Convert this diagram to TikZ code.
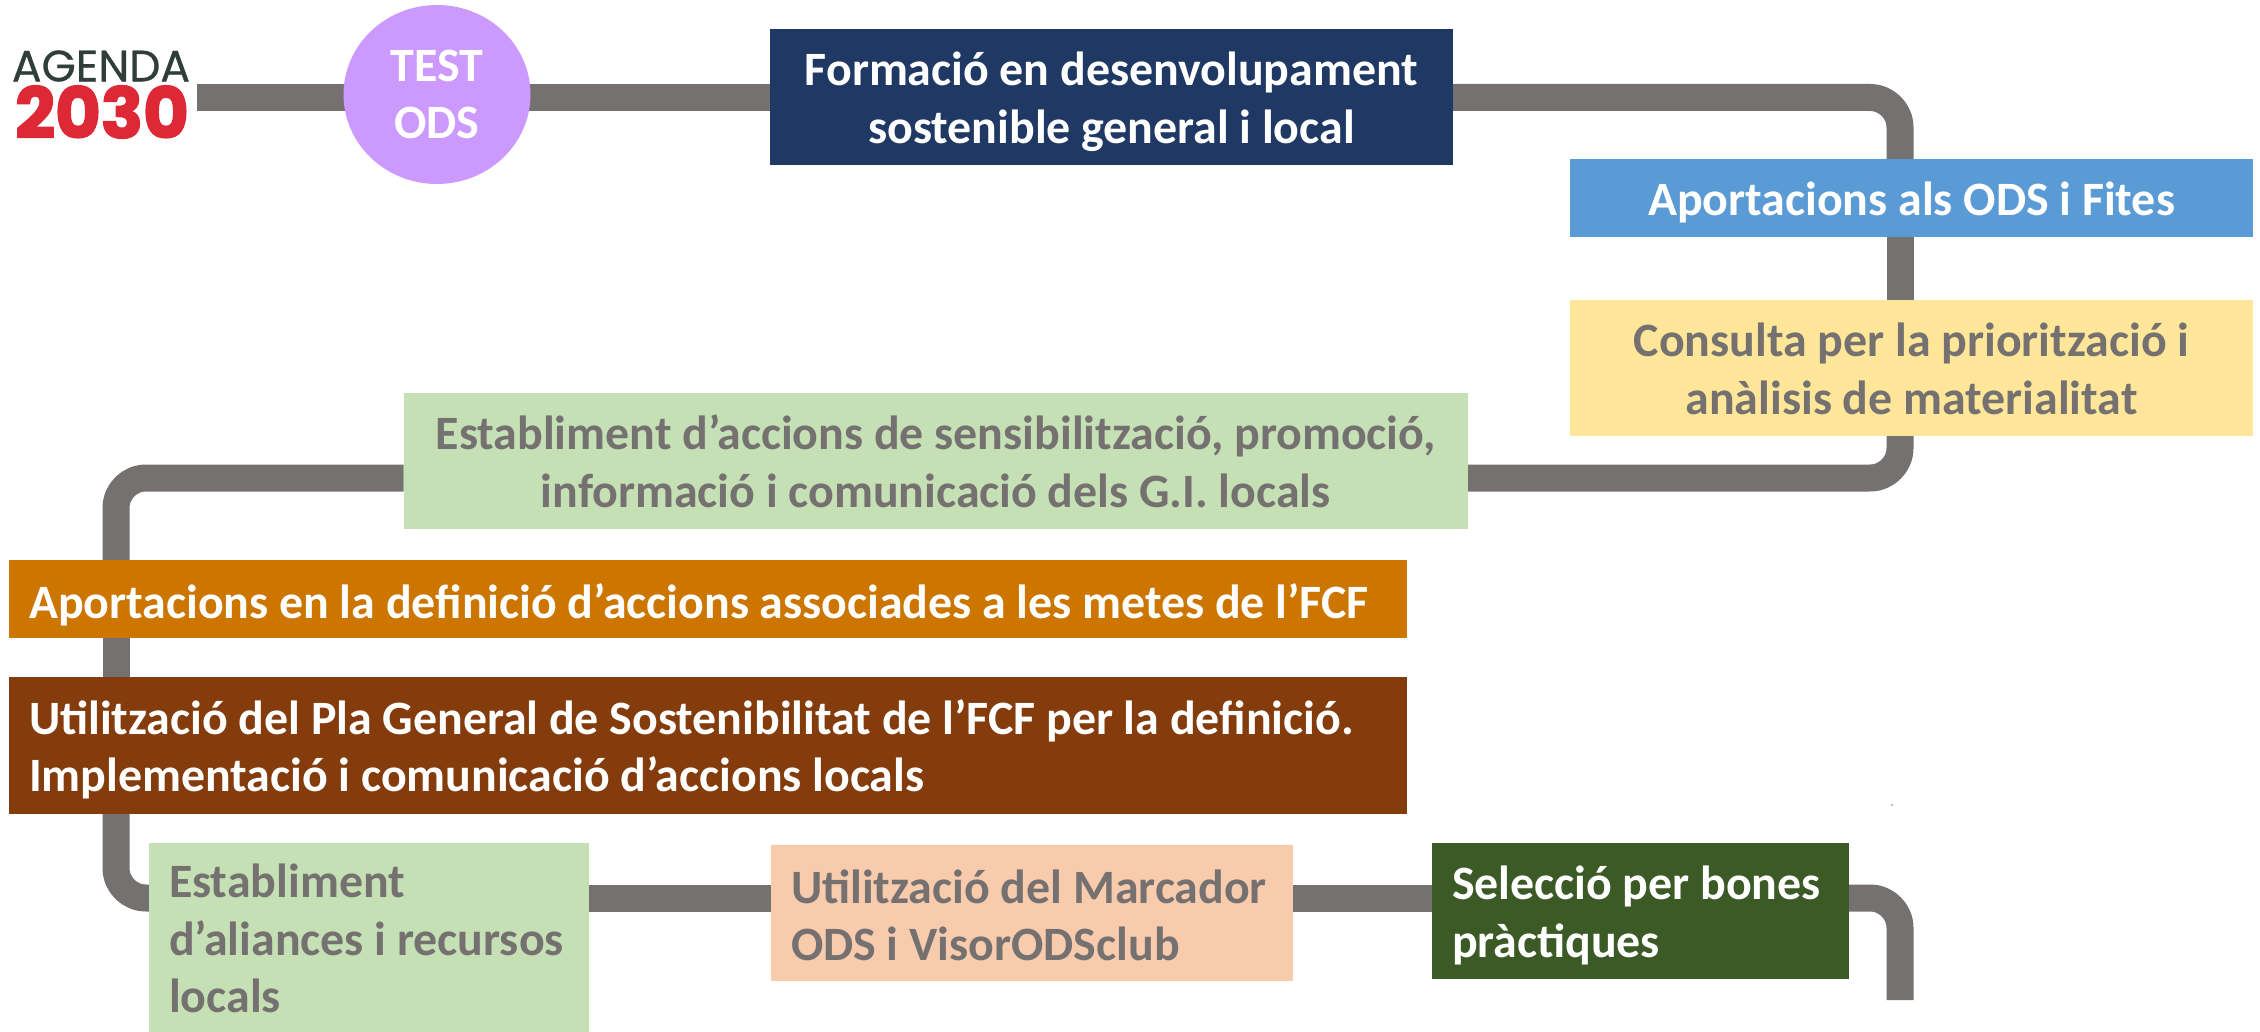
\documentclass[tikz,border=0pt]{standalone}
\usepackage{fontspec}
\setmainfont{Carlito}
\newfontfamily\logofont[FakeBold=0.6]{Poppins}
\newfontfamily\logoheavy[FakeBold=2.5]{Poppins Bold}
\usetikzlibrary{backgrounds,shapes.geometric}
\definecolor{pipecol}{HTML}{767171}
\definecolor{navy}{HTML}{1F3864}
\definecolor{skyb}{HTML}{5B9BD5}
\definecolor{paley}{HTML}{FFE699}
\definecolor{paleg}{HTML}{C5E0B4}
\definecolor{ochre}{HTML}{CC7600}
\definecolor{rust}{HTML}{843C0C}
\definecolor{peach}{HTML}{F8CBAD}
\definecolor{forest}{HTML}{3B5A25}
\definecolor{lilac}{HTML}{CC99FF}
\definecolor{logored}{HTML}{DE2835}
\definecolor{logodark}{HTML}{2F3E3A}
\newcommand{\cardtop}{\rule{0pt}{46pt}}
\newcommand{\cardtoplow}{\rule{0pt}{49pt}}
\newcommand{\cardbot}{\rule[-11pt]{0pt}{11pt}}
\tikzset{
  pipe/.style={draw=pipecol,line width=27pt,line join=round},
  cardbase/.style={anchor=north west,inner xsep=20pt,inner ysep=0pt,outer sep=0pt,
    font=\fontsize{47.9}{57.8}\selectfont\bfseries,
    execute at begin node={\spaceskip=10.7pt\relax\hyphenpenalty=10000\relax}},
  centered/.style={cardbase,align=center},
  lefted/.style={cardbase,align=left},
  light/.style={text=white},
  dark/.style={text=pipecol},
}
\begin{document}
\begin{tikzpicture}[x=1pt,y=-1pt]
\useasboundingbox (0,0) rectangle (2260,1032);
% logo
\node[inner sep=0pt,text=logodark,font=\logofont\fontsize{44}{44}\selectfont,anchor=center] (agenda) at (101,66) {AGENDA};
\node[inner sep=0pt,text=logored,font=\logoheavy\fontsize{70}{70}\selectfont,anchor=center] (year) at (102,112) {2030};
\coordinate (logoend) at (197,97.5);
% stops
\node[ellipse,fill=lilac,minimum width=187pt,minimum height=179pt,inner sep=0pt,outer sep=0pt,
  text=white,align=center,font=\fontsize{47.9}{57.8}\selectfont\bfseries] (test) at (437,94.5) {\raisebox{-3pt}{TEST}\\\raisebox{-3pt}{ODS}};
\node[centered,light,fill=navy,minimum height=136pt,text width=643pt] (formacio) at (770,29) {\cardtop Formació en desenvolupament\\sostenible general i local\cardbot};
\node[centered,light,fill=skyb,minimum height=78pt,text width=643pt] (aportods) at (1570,159) {\cardtop Aportacions als ODS i Fites\cardbot};
\node[centered,dark,fill=paley,minimum height=136pt,text width=643pt] (consulta) at (1570,300) {\cardtop Consulta per la priorització i\\anàlisis de materialitat\cardbot};
\node[centered,dark,fill=paleg,minimum height=136pt,text width=1024.5pt] (sensib) at (403.5,393) {\cardtop Establiment d’accions de sensibilització, promoció,\\informació i comunicació dels G.I. locals\cardbot};
\node[lefted,light,fill=ochre,minimum height=78pt,text width=1358pt] (aportfcf) at (9,560) {\cardtoplow Aportacions en la definició d’accions associades a les metes de l’FCF\cardbot};
\node[lefted,light,fill=rust,minimum height=137pt,text width=1358pt] (pla) at (9,677) {\cardtop Utilització del Pla General de Sostenibilitat de l’FCF per la definició.\\Implementació i comunicació d’accions locals\cardbot};
\node[lefted,dark,fill=paleg,minimum height=189pt,text width=400pt] (aliances) at (149,843) {\cardtop Establiment\\d’aliances i recursos\\locals\cardbot};
\node[lefted,dark,fill=peach,minimum height=136pt,text width=482pt] (marcador) at (771,845) {\cardtoplow Utilització del Marcador\\ODS i VisorODSclub\cardbot};
\node[lefted,light,fill=forest,minimum height=136pt,text width=377pt] (seleccio) at (1432,843) {\cardtop Selecció per bones\\pràctiques\cardbot};
% free end and routing levels
\coordinate (pipeend) at (1900,1000);
\coordinate (rowone) at (0,97.5);
\coordinate (rowtwo) at (0,478);
\coordinate (rowthree) at (0,898);
\coordinate (colright) at (1900,0);
\coordinate (colleft) at (116,0);
\fill[pipecol] (1892,805) circle (0.8pt);
\begin{scope}[on background layer]
\draw[pipe] (logoend) -- (logoend -| test.center);
\draw[pipe] (test.center |- rowone) -- (formacio.center |- rowone);
\draw[pipe,rounded corners=30pt] (formacio.east |- rowone) -- (colright |- rowone) -- (colright |- aportods.north);
\draw[pipe] (colright |- aportods.south) -- (colright |- consulta.north);
\draw[pipe,rounded corners=30pt] (colright |- consulta.south) -- (colright |- rowtwo) -- (sensib.east |- rowtwo);
\draw[pipe,rounded corners=30pt] (sensib.west |- rowtwo) -- (colleft |- rowtwo) -- (colleft |- aportfcf.north);
\draw[pipe] (colleft |- aportfcf.south) -- (colleft |- pla.north);
\draw[pipe,rounded corners=30pt] (colleft |- pla.south) -- (colleft |- rowthree) -- (aliances.west |- rowthree);
\draw[pipe] (aliances.east |- rowthree) -- (marcador.west |- rowthree);
\draw[pipe] (marcador.east |- rowthree) -- (seleccio.west |- rowthree);
\draw[pipe,rounded corners=30pt] (seleccio.east |- rowthree) -- (colright |- rowthree) -- (pipeend);
\end{scope}
\end{tikzpicture}
\end{document}
